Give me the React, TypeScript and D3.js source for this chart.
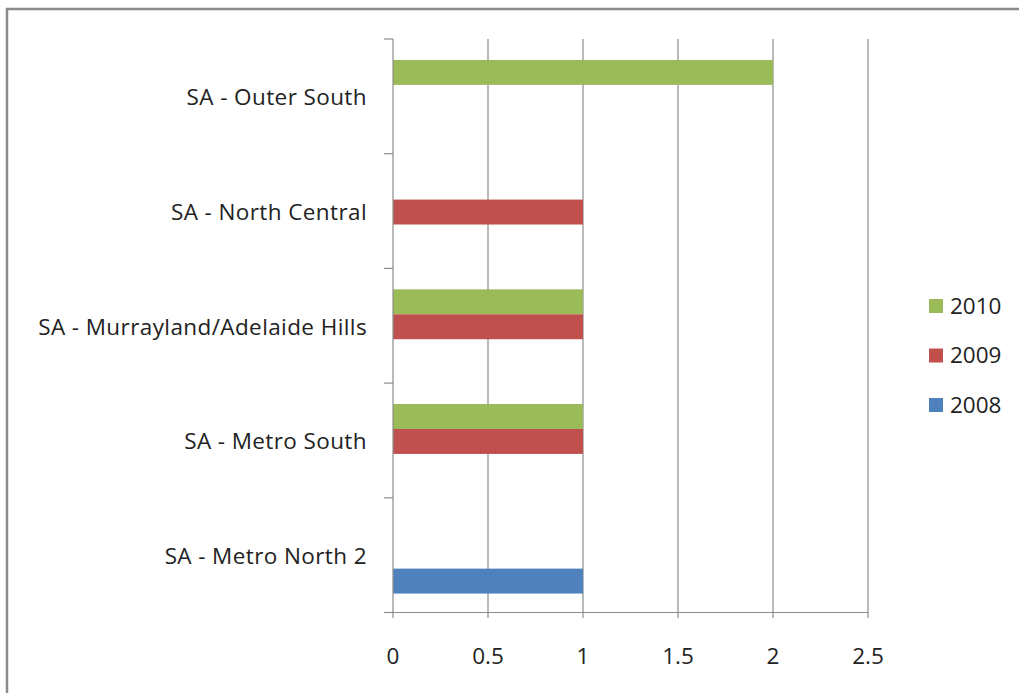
import { useEffect, useRef } from "react";
import * as d3 from "d3";

const categories = [
  "SA - Outer South",
  "SA - North Central",
  "SA - Murrayland/Adelaide Hills",
  "SA - Metro South",
  "SA - Metro North 2",
];
const seriesNames = ["2010", "2009", "2008"];
const values2010 = [2, 0, 1, 1, 0];
const values2009 = [0, 1, 1, 1, 0];
const values2008 = [0, 0, 0, 0, 1];
const xTicks = [0, 0.5, 1, 1.5, 2, 2.5];
const colors = ["#9BBB59", "#C0504D", "#4F81BD"];

export default function App() {
  const ref = useRef(null);
  const width = 1019;
  const height = 693;

  useEffect(() => {
    draw();
  });

  function draw() {
    const svg = d3.select(ref.current);
    svg.selectAll("*").remove();
    const font = "'Open Sans', sans-serif";
    const grey = "#8c8c8c";
    const fontSize = 22.5;

    // outer frame
    svg
      .append("rect")
      .attr("x", 7)
      .attr("y", 9)
      .attr("width", 1030)
      .attr("height", 700)
      .attr("fill", "#fff")
      .attr("stroke", "#8a8a8a")
      .attr("stroke-width", 2.5);

    const x = d3.scaleLinear().domain([0, 2.5]).range([393, 868]);
    const y = d3.scaleBand().domain(categories).range([39, 612.5]);
    const inner = d3
      .scaleBand()
      .domain(seriesNames)
      .range([0, y.bandwidth()])
      .paddingOuter(0.8);

    // vertical gridlines
    svg
      .append("g")
      .selectAll("line")
      .data(xTicks.slice(1))
      .enter()
      .append("line")
      .attr("x1", (d) => x(d))
      .attr("x2", (d) => x(d))
      .attr("y1", 39)
      .attr("y2", 618)
      .attr("stroke", grey)
      .attr("stroke-width", 1.2);

    // bars
    const series = [values2010, values2009, values2008];
    series.forEach((vals, si) => {
      svg
        .append("g")
        .selectAll("rect")
        .data(vals.map((v, i) => ({ v, c: categories[i] })).filter((d) => d.v > 0))
        .enter()
        .append("rect")
        .attr("x", x(0))
        .attr("y", (d) => y(d.c)! + inner(seriesNames[si])! + 1)
        .attr("width", (d) => x(d.v) - x(0))
        .attr("height", inner.bandwidth())
        .attr("fill", colors[si]);
    });

    // y axis
    svg
      .append("line")
      .attr("x1", x(0))
      .attr("x2", x(0))
      .attr("y1", 39)
      .attr("y2", 618)
      .attr("stroke", grey)
      .attr("stroke-width", 1.2);
    const yTicks = categories.map((c) => y(c)!).concat([612.5]);
    svg
      .append("g")
      .selectAll("line")
      .data(yTicks)
      .enter()
      .append("line")
      .attr("x1", 384)
      .attr("x2", x(0))
      .attr("y1", (d) => d)
      .attr("y2", (d) => d)
      .attr("stroke", grey)
      .attr("stroke-width", 1.2);

    // x axis
    svg
      .append("line")
      .attr("x1", 384)
      .attr("x2", x(2.5))
      .attr("y1", 612.5)
      .attr("y2", 612.5)
      .attr("stroke", grey)
      .attr("stroke-width", 1.2);

    svg
      .append("g")
      .selectAll("text")
      .data(xTicks)
      .enter()
      .append("text")
      .attr("x", (d) => x(d))
      .attr("y", 664)
      .attr("text-anchor", "middle")
      .attr("font-family", font)
      .attr("font-size", fontSize)
      .attr("fill", "#222")
      .text((d) => String(d));

    // category labels
    svg
      .append("g")
      .selectAll("text")
      .data(categories)
      .enter()
      .append("text")
      .attr("x", 367)
      .attr("y", (d) => y(d)! + y.bandwidth() / 2 + 1)
      .attr("dy", "0.35em")
      .attr("text-anchor", "end")
      .attr("font-family", font)
      .attr("font-size", fontSize)
      .attr("letter-spacing", 0.4)
      .attr("fill", "#222")
      .text((d) => d);

    // legend
    const legend = svg
      .append("g")
      .selectAll("g")
      .data(seriesNames)
      .enter()
      .append("g")
      .attr("transform", (_, i) => "translate(929," + (306 + i * 49.5) + ")");
    legend
      .append("rect")
      .attr("x", 0)
      .attr("y", -7)
      .attr("width", 14)
      .attr("height", 14)
      .attr("fill", (_, i) => colors[i]);
    legend
      .append("text")
      .attr("x", 21)
      .attr("y", 0)
      .attr("dy", "0.35em")
      .attr("font-family", font)
      .attr("font-size", fontSize)
      .attr("fill", "#222")
      .text((d) => d);
  }

  return (
    <svg
      width={width}
      height={height}
      ref={ref}
      style={{ position: "absolute", left: 0, top: 0, display: "block" }}
    ></svg>
  );
}
